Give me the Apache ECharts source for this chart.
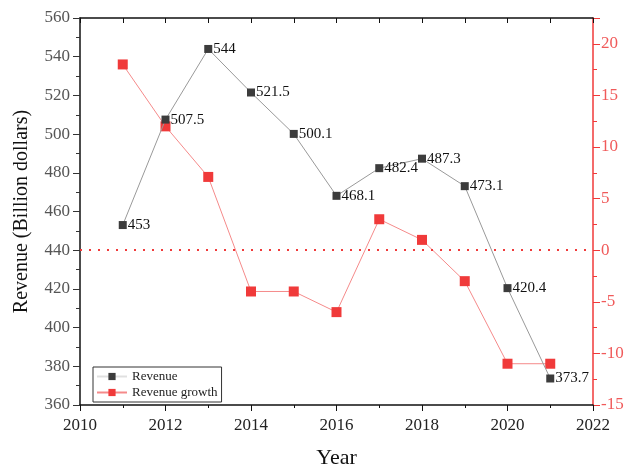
<!DOCTYPE html>
<html><head><meta charset="utf-8">
<script src="https://cdn.jsdelivr.net/npm/echarts@6/dist/echarts.min.js"></script>
<style>html,body{margin:0;padding:0;background:#fff}#c{width:636px;height:465px}</style>
</head><body><div id="c"></div>
<script>
const years = [2011, 2012, 2013, 2014, 2015, 2016, 2017, 2018, 2019, 2020, 2021];
const revenue = [453, 507.5, 544, 521.5, 500.1, 468.1, 482.4, 487.3, 473.1, 420.4, 373.7];
const growth = [18, 12, 7.1, -4, -4, -6, 3, 1, -3, -11, -11];
const leftTicks = [360, 380, 400, 420, 440, 460, 480, 500, 520, 540, 560];
const rightTicks = [-15, -10, -5, 0, 5, 10, 15, 20];
const xTicks = [2010, 2012, 2014, 2016, 2018, 2020, 2022];

const font = 'Liberation Serif';
const chart = echarts.init(document.getElementById('c'));
chart.setOption({
  animation: false,
  grid: {left: 80, right: 43, top: 18, bottom: 60, outerBoundsMode: 'none', containLabel: false},
  legend: {
    left: 93, top: 367, orient: 'vertical', itemGap: 1,
    borderColor: '#333', borderWidth: 1, padding: [2, 4, 2, 3],
    itemWidth: 30, itemHeight: 9,
    textStyle: {fontFamily: font, fontSize: 13, lineHeight: 15, color: '#222'},
    data: [
      {name: 'Revenue', lineStyle: {color: '#e0e0e0'}},
      {name: 'Revenue growth'}
    ]
  },
  xAxis: [{
    type: 'value', min: xTicks[0], max: xTicks[xTicks.length - 1], interval: 2,
    name: 'Year', nameLocation: 'middle', nameGap: 42,
    nameTextStyle: {fontFamily: font, fontSize: 22, color: '#111'},
    axisLine: {onZero: false, lineStyle: {color: '#111', width: 1.5}},
    axisTick: {show: true, length: 6, lineStyle: {color: '#111'}},
    minorTick: {show: true, splitNumber: 2, length: 3, lineStyle: {color: '#111'}},
    splitLine: {show: false},
    axisLabel: {fontFamily: font, fontSize: 17, color: '#222', margin: 12, formatter: v => String(v)}
  }, {
    type: 'value', position: 'top', min: xTicks[0], max: xTicks[xTicks.length - 1], interval: 1,
    axisLine: {onZero: false, lineStyle: {color: '#111', width: 1.5}},
    axisTick: {show: true, inside: true, length: 5, lineStyle: {color: '#111'}},
    axisLabel: {show: false}, splitLine: {show: false}
  }],
  yAxis: [{
    type: 'value', min: leftTicks[0], max: leftTicks[leftTicks.length - 1], interval: 20,
    name: 'Revenue (Billion dollars)', nameLocation: 'middle', nameGap: 48,
    nameTextStyle: {fontFamily: font, fontSize: 20, color: '#111'},
    axisLine: {show: true, onZero: false, lineStyle: {color: '#111', width: 1.5}},
    axisTick: {show: true, length: 7, lineStyle: {color: '#333'}},
    minorTick: {show: true, splitNumber: 2, length: 4, lineStyle: {color: '#333'}},
    splitLine: {show: false},
    axisLabel: {fontFamily: font, fontSize: 17, color: '#555', margin: 10}
  }, {
    type: 'value', position: 'right', min: rightTicks[0], max: 22.5, interval: 5,
    axisLine: {show: true, onZero: false, lineStyle: {color: '#f03a3a', width: 1.5}},
    axisTick: {show: true, length: 7, lineStyle: {color: '#f03a3a'}},
    minorTick: {show: true, splitNumber: 2, length: 4, lineStyle: {color: '#f03a3a'}},
    splitLine: {show: false},
    axisLabel: {fontFamily: font, fontSize: 17, color: '#f05a5a', margin: 8, showMaxLabel: false,
      formatter: v => (rightTicks.includes(v) ? String(v) : '')}
  }],
  series: [{
    name: 'Revenue', type: 'line', xAxisIndex: 0, yAxisIndex: 0,
    data: years.map((y, i) => [y, revenue[i]]),
    symbol: 'rect', symbolSize: 8,
    itemStyle: {color: '#3c3c3c'},
    lineStyle: {color: '#999', width: 1},
    label: {show: true, position: 'right', distance: 1, fontFamily: font, fontSize: 15, color: '#111'},
    z: 3
  }, {
    name: 'Revenue growth', type: 'line', xAxisIndex: 0, yAxisIndex: 1,
    data: years.map((y, i) => [y, growth[i]]),
    symbol: 'rect', symbolSize: 10,
    itemStyle: {color: '#f03a3a'},
    lineStyle: {color: '#f58a8a', width: 1},
    markLine: {
      silent: true, symbol: 'none', label: {show: false},
      lineStyle: {color: '#f03a3a', type: [2, 7], width: 2},
      data: [{yAxis: 0}]
    },
    z: 2
  }]
});
</script></body></html>
